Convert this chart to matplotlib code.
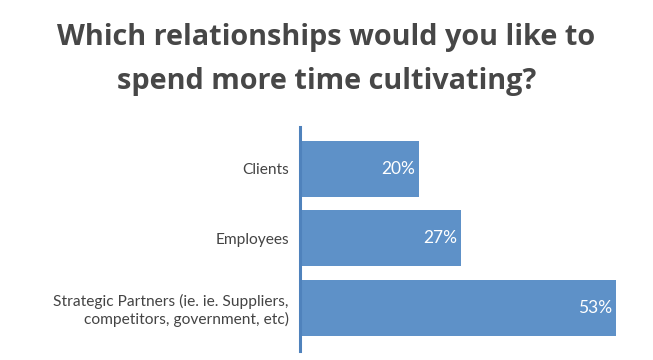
import matplotlib
matplotlib.use("Agg")
import matplotlib.pyplot as plt

categories = ["Clients", "Employees",
              "Strategic Partners (ie. ie. Suppliers,\ncompetitors, government, etc)"]
values = [20, 27, 53]
value_labels = ["20%", "27%", "53%"]
title = "Which relationships would you like to\nspend more time cultivating?"

plt.rcParams['font.family'] = ['Lato', 'DejaVu Sans']

fig = plt.figure(figsize=(6.53, 3.6), dpi=100)
fig.patch.set_facecolor('white')
ax = fig.add_axes([300/653, 9/360, 330/653, 224/360])

bar_color = '#5E91C8'
y = list(range(len(categories)))
ax.barh(y, values, height=0.8, color=bar_color, edgecolor='none')
ax.set_ylim(2.62, -0.6)
ax.set_xlim(0, 330/5.96)

for yi, v, lab in zip(y, values, value_labels):
    ax.annotate(lab, xy=(v, yi), xytext=(-3, 0), textcoords='offset points',
                ha='right', va='center', color='white', fontsize=12.5)

ax.set_yticks(y)
ax.set_yticklabels(categories, fontsize=11.2, color='#444444', ha='right')
ax.tick_params(axis='y', length=0, pad=8)
ax.set_xticks([])
for s in ['top', 'right', 'bottom']:
    ax.spines[s].set_visible(False)
ax.spines['left'].set_color('#4F82BC')
ax.spines['left'].set_linewidth(2.2)
for t in ax.get_yticklabels():
    t.set_multialignment('right')

fig.text(0.5, 1 - 59.5/360, title, ha='center', va='center', fontsize=20.8,
         fontweight='bold', color='#474747', linespacing=1.66,
         family=['Open Sans', 'DejaVu Sans'])

fig.savefig('out.png', dpi=100, facecolor='white')
